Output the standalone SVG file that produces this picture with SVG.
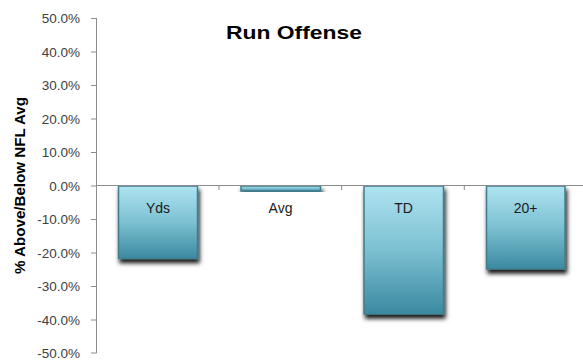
<svg xmlns="http://www.w3.org/2000/svg" width="583" height="362" viewBox="0 0 583 362">
<style>
.tick{font-family:"Liberation Sans",Arial,sans-serif;font-size:13.5px;fill:#404040;text-anchor:end}
.lbl{font-family:"Liberation Sans",Arial,sans-serif;font-size:14px;fill:#1a1a1a;text-anchor:middle}
.bar{fill:url(#g);stroke:#3f7e8e;stroke-width:1.5;filter:url(#sh)}
.ax{stroke:#8c8c8c;stroke-width:1;fill:none}
</style>
<defs>
<linearGradient id="g" x1="0" y1="0" x2="0" y2="1">
<stop offset="0" stop-color="#afe3f0"/>
<stop offset="0.5" stop-color="#7cc0d2"/>
<stop offset="1" stop-color="#3b8aa0"/>
</linearGradient>
<filter id="sh" x="-20%" y="-20%" width="140%" height="140%">
<feDropShadow dx="1.5" dy="4" stdDeviation="2" flood-color="#000" flood-opacity="0.9"/>
</filter>
</defs>
<rect width="583" height="362" fill="#fff"/>
<text x="294" y="39" font-family="'Liberation Sans',Arial,sans-serif" font-weight="bold" font-size="19" text-anchor="middle" textLength="136" lengthAdjust="spacingAndGlyphs" fill="#000">Run Offense</text>
<text transform="translate(24.5,185.5) rotate(-90)" font-family="'Liberation Sans',Arial,sans-serif" font-weight="bold" font-size="15" text-anchor="middle" textLength="177" lengthAdjust="spacingAndGlyphs" fill="#000">% Above/Below NFL Avg</text>
<g id="axis">
<path class="ax" d="M96.5,18 V353 M91,18.5 H96.5 M91,52 H96.5 M91,85.5 H96.5 M91,119 H96.5 M91,152.5 H96.5 M91,186 H96.5 M91,219.5 H96.5 M91,253 H96.5 M91,286.5 H96.5 M91,320 H96.5 M91,353 H96.5"/>
<g>
<text class="tick" x="80" y="23">50.0%</text>
<text class="tick" x="80" y="56.5">40.0%</text>
<text class="tick" x="80" y="90">30.0%</text>
<text class="tick" x="80" y="123.5">20.0%</text>
<text class="tick" x="80" y="157">10.0%</text>
<text class="tick" x="80" y="190.5">0.0%</text>
<text class="tick" x="80" y="224">-10.0%</text>
<text class="tick" x="80" y="257.5">-20.0%</text>
<text class="tick" x="80" y="291">-30.0%</text>
<text class="tick" x="80" y="324.5">-40.0%</text>
<text class="tick" x="80" y="358">-50.0%</text>
</g>
</g>
<g id="bar-yds"><rect class="bar" x="118.5" y="186" width="79" height="72.5"/><text class="lbl" x="158" y="213">Yds</text></g>
<g id="bar-avg"><rect class="bar" x="241" y="186" width="79.5" height="5"/><text class="lbl" x="280.5" y="213">Avg</text></g>
<g id="bar-td"><rect class="bar" x="364" y="186" width="79.5" height="128"/><text class="lbl" x="403.5" y="213">TD</text></g>
<g id="bar-20"><rect class="bar" x="486.5" y="186" width="78.5" height="83"/><text class="lbl" x="525.5" y="213">20+</text></g>
<g id="zero">
<path class="ax" d="M96.5,185.5 H583 M219,185.5 V190 M341.7,185.5 V190 M464.3,185.5 V190"/>
</g>
</svg>
